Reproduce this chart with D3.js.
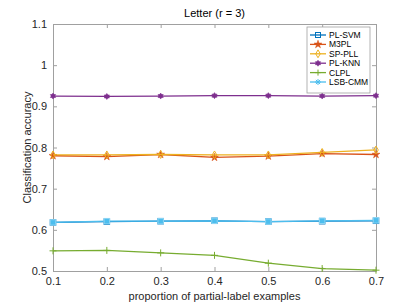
<!DOCTYPE html>
<html>
<head>
<meta charset="utf-8">
<script src="https://cdn.jsdelivr.net/npm/d3@7"></script>
<style>
  body { margin: 0; background: #fff; }
  text { font-family: "Liberation Sans", Arial, sans-serif; }
</style>
</head>
<body>
<div id="body"></div>
<script>
// proportions on the x axis
var proportions = [0.1, 0.2, 0.3, 0.4, 0.5, 0.6, 0.7];
var xTicks = [0.1, 0.2, 0.3, 0.4, 0.5, 0.6, 0.7];
var yTicks = [0.5, 0.6, 0.7, 0.8, 0.9, 1, 1.1];

// accuracy per method
var plSvm  = [0.618, 0.620, 0.621, 0.622, 0.620, 0.621, 0.622];
var m3pl   = [0.780, 0.778, 0.783, 0.776, 0.779, 0.785, 0.783];
var spPll  = [0.782, 0.782, 0.783, 0.782, 0.782, 0.788, 0.794];
var plKnn  = [0.925, 0.924, 0.925, 0.926, 0.926, 0.925, 0.926];
var clpl   = [0.549, 0.550, 0.544, 0.538, 0.519, 0.506, 0.502];
var lsbCmm = [0.618, 0.621, 0.621, 0.622, 0.620, 0.622, 0.623];

var methods = ['PL-SVM', 'M3PL', 'SP-PLL', 'PL-KNN', 'CLPL', 'LSB-CMM'];

var series = [
  { name: 'PL-SVM',  values: plSvm,  color: '#0072BD', marker: 'square' },
  { name: 'M3PL',    values: m3pl,   color: '#D95319', marker: 'star' },
  { name: 'SP-PLL',  values: spPll,  color: '#EDB120', marker: 'diamond' },
  { name: 'PL-KNN',  values: plKnn,  color: '#7E2F8E', marker: 'hexagram' },
  { name: 'CLPL',    values: clpl,   color: '#77AC30', marker: 'plus' },
  { name: 'LSB-CMM', values: lsbCmm, color: '#4DBEEE', marker: 'lsq' }
];

var W = 415, H = 305;
var margin = { top: 24, right: 39, bottom: 34, left: 53 };
var w = W - margin.left - margin.right;
var h = H - margin.top - margin.bottom;

var svg = d3.select('#body').append('svg')
    .attr('width', W)
    .attr('height', H);

var g = svg.append('g')
    .attr('transform', 'translate(' + margin.left + ',' + margin.top + ')');

var x = d3.scaleLinear().domain([0.1, 0.7]).range([0, w]);
var y = d3.scaleLinear().domain([0.5, 1.1]).range([h, 0]);

var axisColor = '#262626';
var boxColor = '#a0a0a0';

// axes - ticks point inward like matlab
function styleAxis (sel) {
  sel.selectAll('path').attr('stroke', boxColor);
  sel.selectAll('line').attr('stroke', boxColor);
  sel.selectAll('text').attr('fill', axisColor).style('font-size', '11px');
}

g.append('g')
    .attr('transform', 'translate(0,' + h + ')')
    .call(d3.axisBottom(x).tickValues(xTicks).tickSize(-4).tickSizeOuter(0).tickPadding(6).tickFormat(d3.format('.1f')))
    .call(styleAxis);

g.append('g')
    .call(d3.axisTop(x).tickValues(xTicks).tickSize(-4).tickSizeOuter(0).tickFormat(''))
    .call(styleAxis);

g.append('g')
    .call(d3.axisLeft(y).tickValues(yTicks).tickSize(-4).tickSizeOuter(0).tickPadding(6).tickFormat(function (d) { return d3.format('~g')(d); }))
    .call(styleAxis);

g.append('g')
    .attr('transform', 'translate(' + w + ',0)')
    .call(d3.axisRight(y).tickValues(yTicks).tickSize(-4).tickSizeOuter(0).tickFormat(''))
    .call(styleAxis);

// markers
function drawMarker (sel, type, color, size) {
  var s = size;
  if (type === 'square') {
    sel.append('rect').attr('x', -s / 2).attr('y', -s / 2).attr('width', s).attr('height', s)
      .attr('fill', color).attr('stroke', color);
  } else if (type === 'lsq') {
    sel.append('rect').attr('x', -s / 2).attr('y', -s / 2).attr('width', s).attr('height', s)
      .attr('fill', color).attr('stroke', '#8fd6f4').attr('stroke-width', 1);
  } else if (type === 'star') {
    sel.append('path').attr('d', d3.symbol().type(d3.symbolStar).size(s * s * 0.55))
      .attr('fill', color).attr('stroke', color).attr('stroke-width', 0.5);
  } else if (type === 'diamond') {
    sel.append('path').attr('d', d3.symbol().type(d3.symbolDiamond).size(s * s * 0.5))
      .attr('fill', 'none').attr('stroke', color).attr('stroke-width', 1);
  } else if (type === 'hexagram') {
    var r = s / 2;
    var tri1 = [0, 1, 2].map(function (i) { var a = -Math.PI / 2 + i * 2 * Math.PI / 3; return [r * Math.cos(a), r * Math.sin(a)]; });
    var tri2 = [0, 1, 2].map(function (i) { var a = Math.PI / 2 + i * 2 * Math.PI / 3; return [r * Math.cos(a), r * Math.sin(a)]; });
    sel.append('path').attr('d', 'M' + tri1.join('L') + 'Z M' + tri2.join('L') + 'Z')
      .attr('fill', color).attr('stroke', color).attr('stroke-width', 0.6);
  } else if (type === 'plus') {
    sel.append('path').attr('d', 'M' + (-s / 2) + ',0H' + (s / 2) + 'M0,' + (-s / 2) + 'V' + (s / 2))
      .attr('stroke', color).attr('stroke-width', 1);
  } else if (type === 'asterisk') {
    var r2 = s / 2;
    sel.append('path').attr('d', 'M' + (-r2) + ',0H' + r2 + 'M' + (-r2 * 0.7) + ',' + (-r2 * 0.7) + 'L' + (r2 * 0.7) + ',' + (r2 * 0.7) +
        'M' + (-r2 * 0.7) + ',' + (r2 * 0.7) + 'L' + (r2 * 0.7) + ',' + (-r2 * 0.7) + 'M0,' + (-r2) + 'V' + r2)
      .attr('stroke', color).attr('stroke-width', 1);
  }
}

var line = d3.line()
    .x(function (d, i) { return x(proportions[i]); })
    .y(function (d) { return y(d); });

series.forEach(function (s) {
  g.append('path')
      .datum(s.values)
      .attr('fill', 'none')
      .attr('stroke', s.color)
      .attr('stroke-width', 1.3)
      .attr('d', line);

  g.selectAll(null)
      .data(s.values)
      .enter().append('g')
      .attr('transform', function (d, i) { return 'translate(' + x(proportions[i]) + ',' + y(d) + ')'; })
      .each(function () {
        var sz = s.marker === 'plus' ? 7 : (s.marker === 'square' || s.marker === 'lsq' ? 5.5 : 6);
        drawMarker(d3.select(this), s.marker, s.color, sz);
      });
});

// title and axis labels
svg.append('text')
    .attr('x', margin.left + w / 2)
    .attr('y', 17)
    .attr('text-anchor', 'middle')
    .attr('fill', '#000')
    .style('font-size', '11px')
    .text('Letter (r = 3)');

svg.append('text')
    .attr('x', margin.left + w / 2)
    .attr('y', 300)
    .attr('text-anchor', 'middle')
    .attr('fill', axisColor)
    .style('font-size', '11px')
    .text('proportion of partial-label examples');

svg.append('text')
    .attr('transform', 'translate(31,' + (margin.top + h / 2) + ') rotate(-90)')
    .attr('text-anchor', 'middle')
    .attr('fill', axisColor)
    .style('font-size', '11px')
    .text('Classification accuracy');

// legend
var legend = svg.append('g').attr('transform', 'translate(307,27)');
legend.append('rect')
    .attr('width', 63)
    .attr('height', 66)
    .attr('fill', '#fff')
    .attr('stroke', '#a0a0a0')
    .attr('stroke-width', 0.8);

var legendMarkers = ['square', 'star', 'diamond', 'hexagram', 'plus', 'asterisk'];

methods.forEach(function (name, i) {
  var s = series[i];
  var ly = 8 + i * 9.4;
  var row = legend.append('g').attr('transform', 'translate(0,' + ly + ')');
  row.append('line')
      .attr('x1', 3).attr('x2', 19).attr('y1', 0).attr('y2', 0)
      .attr('stroke', s.color).attr('stroke-width', 1.3);
  var m = row.append('g').attr('transform', 'translate(11,0)');
  var mk = legendMarkers[i];
  if (mk === 'square') {
    m.append('rect').attr('x', -2.5).attr('y', -2.5).attr('width', 5).attr('height', 5)
      .attr('fill', 'none').attr('stroke', s.color).attr('stroke-width', 1);
  } else {
    drawMarker(m, mk, s.color, 6);
  }
  row.append('text')
      .attr('x', 22)
      .attr('y', 3)
      .attr('fill', '#000')
      .style('font-size', '8.5px')
      .text(name);
});
</script>
</body>
</html>
